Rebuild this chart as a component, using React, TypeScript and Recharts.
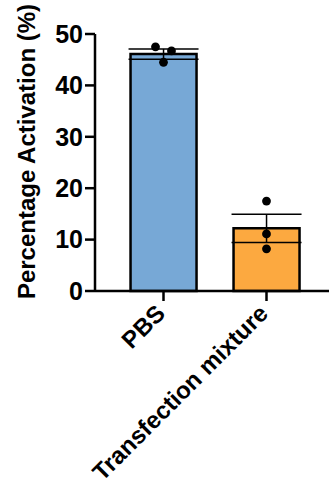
import { ComposedChart, Bar, Cell, ErrorBar, Scatter, XAxis, YAxis } from "recharts"

const groups = ["PBS", "Transfection mixture"]
const means = [46.1, 12.2]
const sem = [1.0, 2.75]
const rep1 = [47.5, 17.5]
const rep2 = [46.7, 11.1]
const rep3 = [44.5, 8.2]
const yTicks = [0, 10, 20, 30, 40, 50]

const colors = ["#77A8D6", "#FCA940"]
const font = "'Liberation Sans', Arial, sans-serif"

const data = groups.map((name, i) => ({
  name,
  mean: means[i],
  sem: sem[i],
  r1: rep1[i],
  r2: rep2[i],
  r3: rep3[i],
}))

// horizontal nudge for each replicate so overlapping dots stay visible
const jitter: Record<string, number[]> = {
  r1: [-8, 0],
  r2: [8, 0],
  r3: [0, 0],
}

const dot = (key: string) => (props: any) => {
  const dx = jitter[key][props.index] ?? 0
  return <circle cx={props.cx + dx} cy={props.cy} r={4.4} fill="#000" />
}

const XTick = ({ x, y, payload }: any) => (
  <text
    x={x + 3}
    y={y + 12}
    transform={`rotate(-45, ${x + 3}, ${y + 12})`}
    textAnchor="end"
    fontFamily={font}
    fontWeight="bold"
    fontSize={24}
    fill="#000"
  >
    {payload.value}
  </text>
)

const YLabel = ({ viewBox }: any) => {
  const cx = 26
  const cy = viewBox.y + viewBox.height / 2 - 11
  return (
    <text
      x={cx}
      y={cy}
      transform={`rotate(-90, ${cx}, ${cy})`}
      textAnchor="middle"
      dominantBaseline="central"
      fontFamily={font}
      fontWeight="bold"
      fontSize={24}
      fill="#000"
    >
      Percentage Activation (%)
    </text>
  )
}

export default function App() {
  return (
    <div style={{ position: "absolute", left: 0, top: 0, background: "#fff" }}>
      <ComposedChart
        width={329}
        height={493}
        data={data}
        margin={{ top: 34, right: 0, bottom: 0, left: 0 }}
        barCategoryGap="18%"
      >
        <XAxis
          dataKey="name"
          height={202}
          padding={{ left: 17, right: 11 }}
          axisLine={{ stroke: "#000", strokeWidth: 2.5 }}
          tickLine={{ stroke: "#000", strokeWidth: 2.5 }}
          tickSize={10}
          tick={<XTick />}
          interval={0}
        />
        <YAxis
          width={95}
          domain={[0, 50]}
          ticks={yTicks}
          axisLine={{ stroke: "#000", strokeWidth: 2.5 }}
          tickLine={{ stroke: "#000", strokeWidth: 2.5 }}
          tickSize={10}
          tick={{ fill: "#000", fontFamily: font, fontWeight: "bold", fontSize: 25 }}
          label={<YLabel />}
        />
        <Bar dataKey="mean" stroke="#000" strokeWidth={2.5} isAnimationActive={false}>
          {data.map((d, i) => (
            <Cell key={d.name} fill={colors[i]} />
          ))}
          <ErrorBar dataKey="sem" width={35} stroke="#000" strokeWidth={1.5} />
        </Bar>
        <Scatter dataKey="r1" shape={dot("r1")} isAnimationActive={false} />
        <Scatter dataKey="r2" shape={dot("r2")} isAnimationActive={false} />
        <Scatter dataKey="r3" shape={dot("r3")} isAnimationActive={false} />
      </ComposedChart>
    </div>
  )
}
